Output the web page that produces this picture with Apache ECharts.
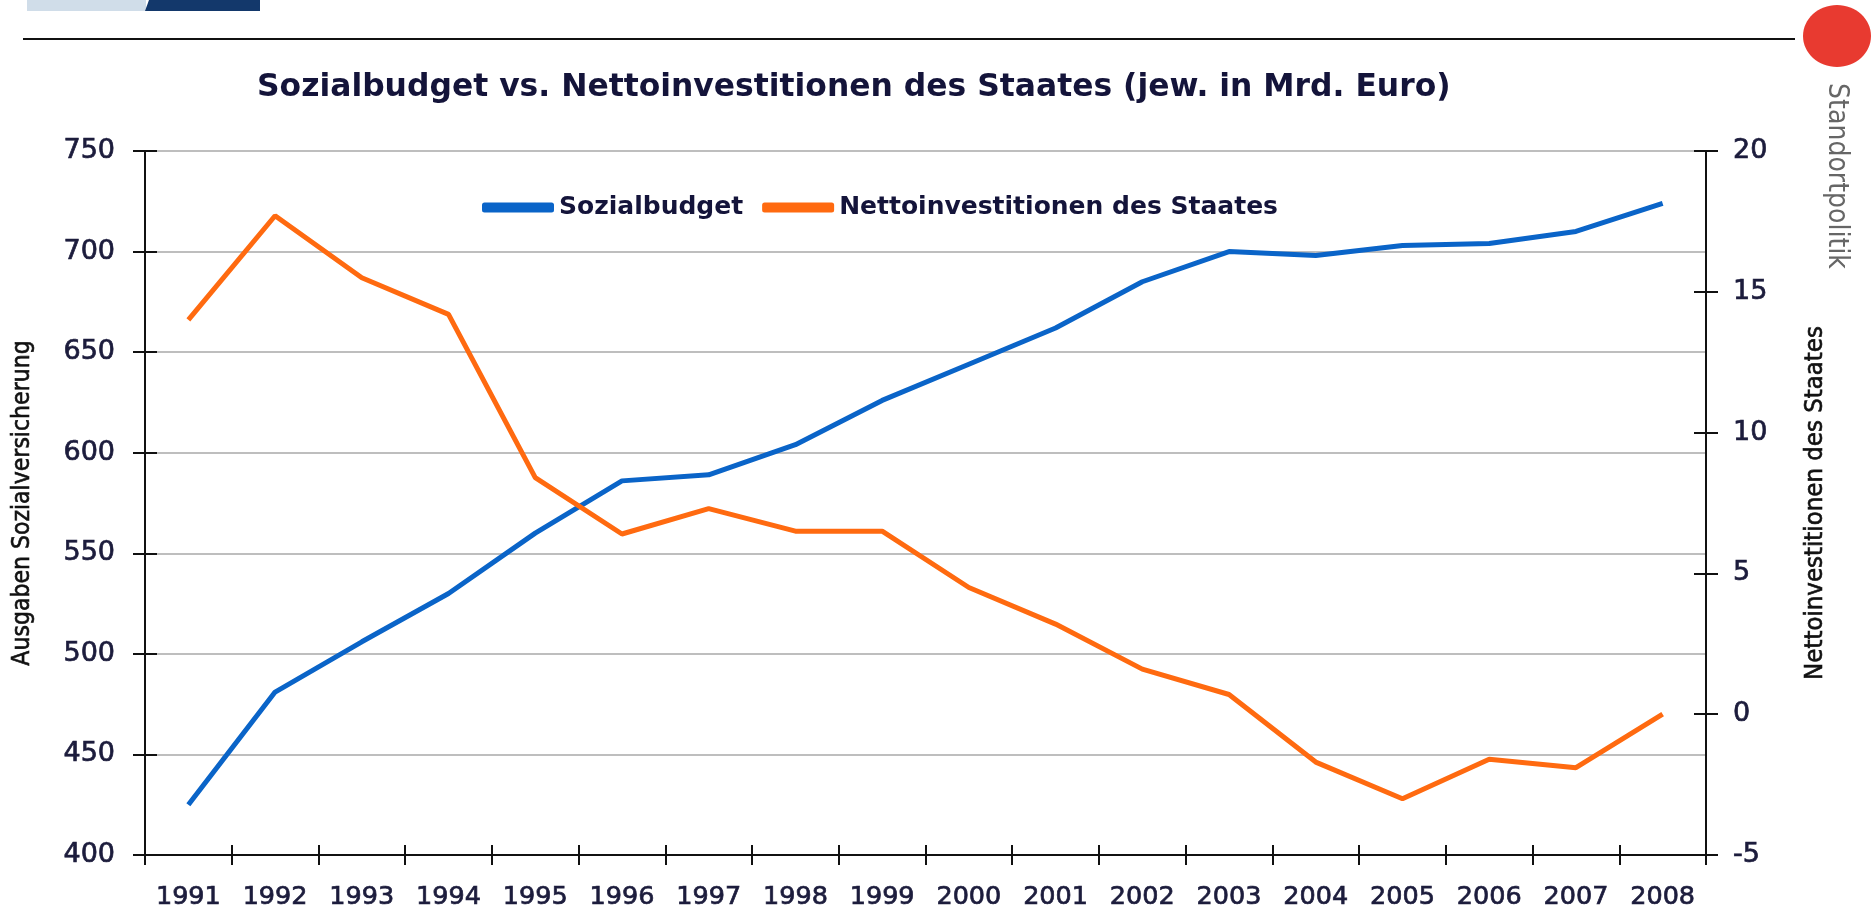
<!DOCTYPE html>
<html>
<head>
<meta charset="utf-8">
<title>Sozialbudget vs. Nettoinvestitionen</title>
<script src="https://cdn.jsdelivr.net/npm/echarts@6/dist/echarts.min.js"></script>
<style>
  html, body { margin: 0; padding: 0; background: #fff; }
  #chart { width: 1874px; height: 911px; }
</style>
</head>
<body>
<div id="chart"></div>
<script>
// Daten
const years = ['1991', '1992', '1993', '1994', '1995', '1996', '1997', '1998', '1999',
  '2000', '2001', '2002', '2003', '2004', '2005', '2006', '2007', '2008'];
const sozialbudget = [425, 481, 506, 530, 560, 586, 589, 604, 626, 644, 662, 685, 700, 698, 703, 704, 710, 724];
const nettoinvest = [14.0, 17.7, 15.5, 14.2, 8.4, 6.4, 7.3, 6.5, 6.5, 4.5, 3.2, 1.6, 0.7, -1.7, -3.0, -1.6, -1.9, 0.0];

const labelColor = '#1c1c3c';
const labelFont = 'DejaVu Sans';
const narrowFont = '"DejaVu Sans Condensed", "Liberation Sans Narrow", sans-serif';

const chart = echarts.init(document.getElementById('chart'));

const tickOut = { show: true, inside: false, length: 12, lineStyle: { color: '#111', width: 2 } };
const tickIn = { show: true, inside: true, length: 12, lineStyle: { color: '#111', width: 2 } };
// etwas kraeftigere Schrift fuer die Achsenbeschriftung
const tickText = { fontFamily: labelFont, color: labelColor, textBorderColor: labelColor, textBorderWidth: 0.7 };
const nameText = { fontFamily: narrowFont, color: '#111', textBorderColor: '#111', textBorderWidth: 0.6 };

const option = {
  animation: false,
  title: {
    text: 'Sozialbudget vs. Nettoinvestitionen des Staates (jew. in Mrd. Euro)',
    left: 257,
    top: 72,
    padding: 0,
    textStyle: { fontFamily: labelFont, fontWeight: 'bold', fontSize: 31.4, color: '#14143a' }
  },
  legend: {
    left: 482,
    top: 195,
    padding: 0,
    itemWidth: 72,
    itemHeight: 10,
    itemGap: 19,
    icon: 'roundRect',
    textStyle: { fontFamily: labelFont, fontWeight: 'bold', fontSize: 25, color: '#14143a', padding: [0, 0, 0, 0] },
    data: ['Sozialbudget', 'Nettoinvestitionen des Staates']
  },
  grid: { left: 145, right: 168, top: 151, bottom: 56 },
  xAxis: [
    {
      type: 'category',
      data: years,
      boundaryGap: true,
      axisLine: { onZero: false, lineStyle: { color: '#111', width: 2 } },
      axisTick: { show: true, inside: false, length: 10, interval: 0, lineStyle: { color: '#111', width: 2 } },
      axisLabel: Object.assign({ interval: 0, margin: 29, fontSize: 25.5 }, tickText),
      splitLine: { show: false }
    },
    {
      type: 'category',
      data: years,
      position: 'bottom',
      boundaryGap: true,
      axisLine: { show: false, onZero: false },
      axisTick: { show: true, inside: true, length: 10, interval: 0, lineStyle: { color: '#111', width: 2 } },
      axisLabel: { show: false },
      splitLine: { show: false }
    }
  ],
  yAxis: [
    {
      type: 'value',
      min: 400,
      max: 750,
      interval: 50,
      position: 'left',
      name: 'Ausgaben Sozialversicherung',
      nameLocation: 'middle',
      nameGap: 110,
      nameRotate: 90,
      nameTextStyle: Object.assign({ fontSize: 24.5 }, nameText),
      axisLine: { show: true, lineStyle: { color: '#111', width: 2 } },
      axisTick: tickOut,
      axisLabel: Object.assign({ margin: 30, fontSize: 27 }, tickText),
      splitLine: { show: true, lineStyle: { color: '#a8a8a8', width: 1.5 } }
    },
    {
      type: 'value',
      min: -5,
      max: 20,
      interval: 5,
      position: 'right',
      name: 'Nettoinvestitionen des Staates',
      nameLocation: 'middle',
      nameGap: 96,
      nameRotate: 90,
      nameTextStyle: Object.assign({ fontSize: 25.5 }, nameText),
      axisLine: { show: true, lineStyle: { color: '#111', width: 2 } },
      axisTick: tickOut,
      axisLabel: Object.assign({ margin: 27, fontSize: 27 }, tickText),
      splitLine: { show: false }
    },
    {
      type: 'value',
      min: 400,
      max: 750,
      interval: 50,
      position: 'left',
      axisLine: { show: false },
      axisTick: tickIn,
      axisLabel: { show: false },
      splitLine: { show: false }
    },
    {
      type: 'value',
      min: -5,
      max: 20,
      interval: 5,
      position: 'right',
      axisLine: { show: false },
      axisTick: tickIn,
      axisLabel: { show: false },
      splitLine: { show: false }
    }
  ],
  series: [
    {
      name: 'Sozialbudget',
      type: 'line',
      data: sozialbudget,
      yAxisIndex: 0,
      symbol: 'none',
      lineStyle: { color: '#0a64c8', width: 5 },
      itemStyle: { color: '#0a64c8' }
    },
    {
      name: 'Nettoinvestitionen des Staates',
      type: 'line',
      data: nettoinvest,
      yAxisIndex: 1,
      symbol: 'none',
      lineStyle: { color: '#ff6a10', width: 5 },
      itemStyle: { color: '#ff6a10' }
    }
  ],
  graphic: [
    { type: 'rect', shape: { x: 27, y: 0, width: 119, height: 11 }, style: { fill: '#d0dde9' } },
    { type: 'polygon', shape: { points: [[149, 0], [260, 0], [260, 11], [145, 11]] }, style: { fill: '#13386b' } },
    { type: 'line', shape: { x1: 23, y1: 39, x2: 1795, y2: 39 }, style: { stroke: '#111', lineWidth: 2 } },
    { type: 'ellipse', shape: { cx: 1837, cy: 36, rx: 34, ry: 31 }, style: { fill: '#e83a30' } },
    {
      type: 'text',
      x: 1836,
      y: 176,
      rotation: -Math.PI / 2,
      style: {
        text: 'Standortpolitik',
        fontFamily: narrowFont,
        fontSize: 28,
        fill: '#666',
        align: 'center',
        verticalAlign: 'middle'
      }
    }
  ]
};

chart.setOption(option);
</script>
</body>
</html>
